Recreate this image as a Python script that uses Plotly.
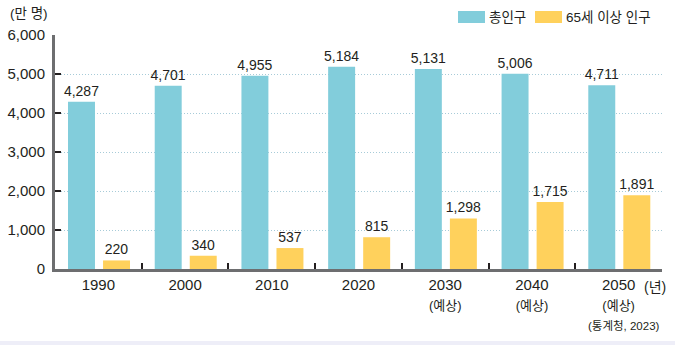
import plotly.graph_objects as go

categories = ["1990", "2000", "2010", "2020", "2030", "2040", "2050"]
tick_labels = ["1990", "2000", "2010", "2020",
               "2030<br><span style='font-size:13px'>(예상)</span>",
               "2040<br><span style='font-size:13px'>(예상)</span>",
               "2050<br><span style='font-size:13px'>(예상)</span>"]
total_pop = [4287, 4701, 4955, 5184, 5131, 5006, 4711]
elderly_pop = [220, 340, 537, 815, 1298, 1715, 1891]
series_names = ["총인구", "65세 이상 인구"]

TEAL = "#82CDDB"
YELLOW = "#FFD15C"
FONT = "Liberation Sans, Noto Sans CJK KR, sans-serif"

L, R = 55, 13
PW = 675 - L - R

fig = go.Figure()
for name, vals, col, off in [(series_names[0], total_pop, TEAL, -0.35),
                             (series_names[1], elderly_pop, YELLOW, 0.054)]:
    fig.add_trace(go.Bar(
        x=categories, y=vals, name=name, marker_color=col, marker_line_width=0,
        width=0.311, offset=off,
        texttemplate="%{y:,}", textposition="outside", cliponaxis=False,
        constraintext="none",
        textfont=dict(size=14, color="#231F20", family=FONT),
        showlegend=False,
    ))

fig.update_layout(
    width=675, height=345,
    margin=dict(l=L, r=R, t=35, b=76, autoexpand=False),
    paper_bgcolor="white", plot_bgcolor="white",
    barmode="group",
    font=dict(family=FONT, color="#231F20"),
)
fig.update_xaxes(
    type="category", tickvals=categories, ticktext=tick_labels,
    showline=True, linecolor="#6D6E70", linewidth=3,
    ticks="inside", tickson="boundaries", ticklen=6, tickwidth=1.5, tickcolor="#231F20",
    tickfont=dict(size=15, family=FONT, color="#231F20"),
    showgrid=False, automargin=False,
)
fig.update_yaxes(
    range=[0, 6000], dtick=1000, tickformat=",",
    showline=True, linecolor="#6D6E70", linewidth=3,
    ticks="inside", ticklen=6, tickwidth=1.5, tickcolor="#231F20",
    tickfont=dict(size=15, family=FONT, color="#231F20"),
    showgrid=True, gridcolor="#A7CBD8", griddash="1px,2px", gridwidth=1,
    zeroline=False, ticklabelstandoff=4, automargin=False,
)

# unit labels
fig.add_annotation(text="(만 명)", xref="paper", yref="paper", x=(8 - L) / PW, y=1.0, yshift=22,
                   xanchor="left", yanchor="middle", showarrow=False,
                   font=dict(size=13.5, family=FONT, color="#231F20"))
fig.add_annotation(text="(년)", xref="paper", yref="paper", x=(642 - L) / PW, y=0, yshift=-18,
                   xanchor="left", yanchor="middle", showarrow=False,
                   font=dict(size=14, family=FONT, color="#231F20"))
fig.add_annotation(text="(통계청, 2023)", xref="paper", yref="paper", x=1.0, y=0, yshift=-57,
                   xanchor="right", yanchor="middle", showarrow=False,
                   font=dict(size=11.5, family=FONT, color="#231F20"))

# custom legend
leg = [(458, 485, TEAL, series_names[0]), (535, 562, YELLOW, series_names[1])]
for x0, x1, col, name in leg:
    fig.add_shape(type="rect", xref="paper", yref="paper",
                  x0=(x0 - L) / PW, x1=(x1 - L) / PW,
                  y0=(269 - 11) / 234, y1=(269 - 23) / 234,
                  fillcolor=col, line_width=0)
    fig.add_annotation(text=name, xref="paper", yref="paper",
                       x=(x1 + 2 - L) / PW, y=(269 - 17) / 234,
                       xanchor="left", yanchor="middle", showarrow=False,
                       font=dict(size=13.5, family=FONT, color="#231F20"))

# bottom band
fig.add_shape(type="rect", xref="paper", yref="paper",
              x0=-L / PW, x1=(675 - L) / PW,
              y0=(269 - 345) / 234, y1=(269 - 341) / 234,
              fillcolor="#EEEEF8", line_width=0)

fig.write_html("out.html")
